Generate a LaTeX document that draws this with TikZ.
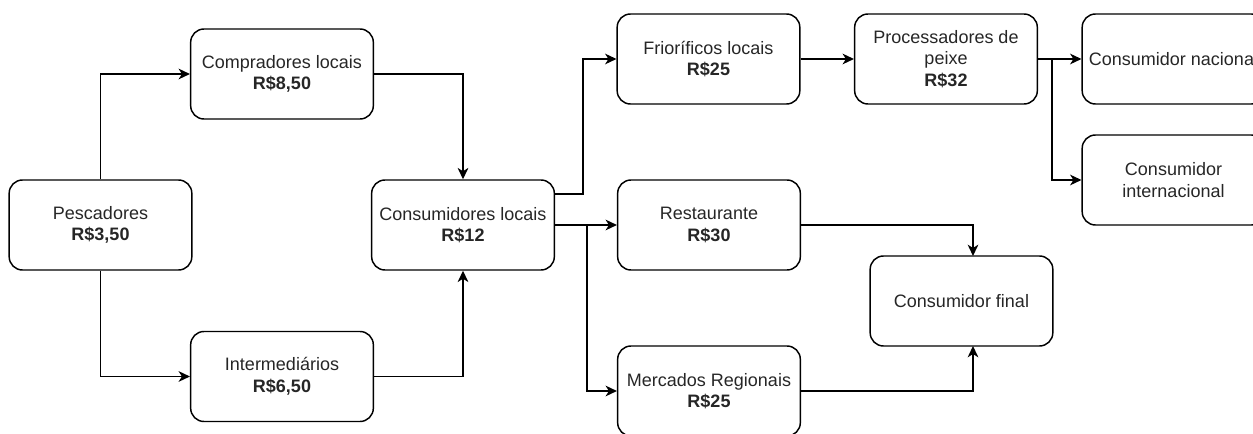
\documentclass[tikz,border=0pt]{standalone}
\usepackage{fontspec}
\setmainfont{Liberation Sans}
\usetikzlibrary{arrows.meta}
\begin{document}
\begin{tikzpicture}[x=0.75pt,y=-0.75pt,
  box/.style={draw, line width=1.1pt, rounded corners=10pt, minimum width=137pt, minimum height=67.5pt,
    align=center, font=\fontsize{13.5}{16.2}\selectfont, inner sep=0pt, text=black!85},
  conn/.style={line width=1.1pt, -{Stealth[length=8.5pt,width=8pt,inset=2.5pt]}}]
\useasboundingbox (0,0) rectangle (1253,434);
\node[box] (pesc)  at (100.5,225) {Pescadores\\\textbf{R\$3,50}};
\node[box] (comp)  at (282,74)    {Compradores locais\\\textbf{R\$8,50}};
\node[box] (inter) at (282,376.5) {Intermediários\\\textbf{R\$6,50}};
\node[box] (cons)  at (463,225)   {Consumidores locais\\\textbf{R\$12}};
\node[box] (frio)  at (708.5,59)  {Frioríficos locais\\\textbf{R\$25}};
\node[box] (proc)  at (946,59)    {Processadores de\\peixe\\\textbf{R\$32}};
\node[box] (nac)   at (1173.5,59) {Consumidor nacional};
\node[box] (intl)  at (1173.5,180) {Consumidor\\internacional};
\node[box] (rest)  at (709,225)   {Restaurante\\\textbf{R\$30}};
\node[box] (merc)  at (709,391)   {Mercados Regionais\\\textbf{R\$25}};
\node[box] (final) at (961.5,301) {Consumidor final};

\draw[conn] (pesc.north) |- (comp.west);
\draw[conn] (pesc.south) |- (inter.west);
\draw[conn] (comp.east) -| (cons.north);
\draw[conn] (inter.east) -| (cons.south);

\coordinate (c1) at ([yshift=23.25pt]cons.east);
\coordinate (b1) at (583,194);
\draw[conn] (c1) -- (b1) |- (frio.west);
\draw[conn] (cons.east) -- (rest.west);
\coordinate (b2) at (587,225);
\draw[conn] (b2) |- (merc.west);

\draw[conn] (frio.east) -- (proc.west);
\draw[conn] (proc.east) -- (nac.west);
\coordinate (b3) at (1052,59);
\draw[conn] (b3) |- (intl.west);

\coordinate (f1) at (973,256);
\coordinate (f2) at (973,346);
\draw[conn] (rest.east) -| (f1);
\draw[conn] (merc.east) -| (f2);
\end{tikzpicture}
\end{document}
